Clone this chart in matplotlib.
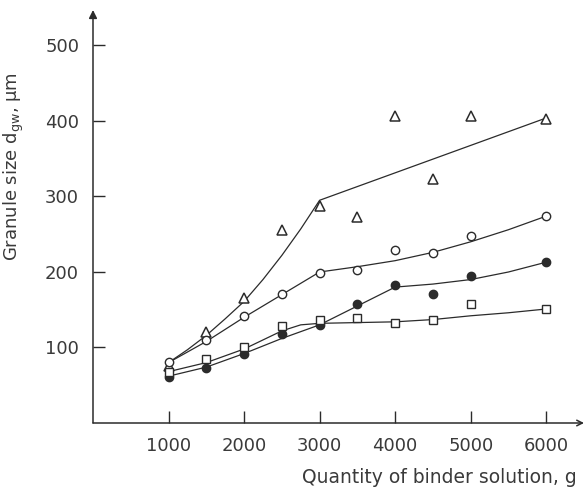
import matplotlib
matplotlib.use("Agg")
import matplotlib.pyplot as plt

# Data
x = [1000, 1500, 2000, 2500, 3000, 3500, 4000, 4500, 5000, 6000]
tri = [76, 121, 165, 256, 287, 273, 407, 323, 407, 403]
circ_open = [81, 110, 142, 171, 199, 203, 229, 225, 248, 274]
circ_fill = [61, 73, 91, 118, 130, 158, 183, 171, 195, 213]
square = [68, 85, 101, 128, 136, 139, 132, 136, 158, 151]

# Hand-drawn fit curves
fit_tri_x = [1000, 1250, 1500, 1750, 2000, 2250, 2500, 2750, 3000, 6000]
fit_tri_y = [80, 97, 116, 138, 161, 190, 222, 257, 295, 404]
fit_co_x = [1000, 1500, 2000, 2500, 3000, 3500, 4000, 4500, 5000, 5500, 6000]
fit_co_y = [80, 108, 140, 170, 200, 207, 215, 226, 240, 256, 274]
fit_cf_x = [1000, 1500, 2000, 2500, 3000, 3500, 4000, 4500, 5000, 5500, 6000]
fit_cf_y = [62, 74, 92, 112, 130, 155, 180, 184, 190, 200, 213]
fit_sq_x = [1000, 1500, 2000, 2500, 2750, 3000, 3500, 4000, 4500, 5000, 5500, 6000]
fit_sq_y = [68, 80, 98, 122, 130, 132, 133, 134, 137, 142, 146, 151]

xticks = [1000, 2000, 3000, 4000, 5000, 6000]
yticks = [100, 200, 300, 400, 500]

ink = "#2b2b2b"
txt = "#3a3a3a"
plt.rcParams['font.family'] = ['DejaVu Sans']

fig = plt.figure(figsize=(5.88, 4.94), dpi=100)
ax = fig.add_axes([93/588, 71/494, 491/588, 413/494])
ax.set_xlim(0, 6500)
ax.set_ylim(0, 547)

lw = 0.9
ax.plot(fit_tri_x, fit_tri_y, color=ink, lw=lw)
ax.plot(fit_co_x, fit_co_y, color=ink, lw=lw)
ax.plot(fit_cf_x, fit_cf_y, color=ink, lw=lw)
ax.plot(fit_sq_x, fit_sq_y, color=ink, lw=lw)

ms = 6
ax.plot(x, tri, ls='none', marker='^', ms=ms+0.5, mfc='white', mec=ink, mew=1.1)
ax.plot(x, circ_open, ls='none', marker='o', ms=ms, mfc='white', mec=ink, mew=1.0)
ax.plot(x, circ_fill, ls='none', marker='o', ms=ms, mfc=ink, mec=ink, mew=1.0)
ax.plot(x, square, ls='none', marker='s', ms=ms-0.5, mfc='white', mec=ink, mew=1.0)

for s in ax.spines.values():
    s.set_visible(False)

ax.annotate('', xy=(1.0, 0), xytext=(0, 0), xycoords='axes fraction',
            arrowprops=dict(arrowstyle='->', color=ink, lw=1.1, shrinkA=0, shrinkB=0))
ax.annotate('', xy=(0, 1.0), xytext=(0, 0), xycoords='axes fraction',
            arrowprops=dict(arrowstyle='-|>', color=ink, lw=1.1, shrinkA=0, shrinkB=0,
                            mutation_scale=12))

ax.set_xticks(xticks)
ax.set_yticks(yticks)
ax.set_xticklabels([str(v) for v in xticks])
ax.set_yticklabels([str(v) for v in yticks])
ax.tick_params(axis='both', direction='in', length=8.5, width=1.0, color=ink,
               labelcolor=txt, labelsize=13)
ax.tick_params(axis='x', pad=10)
ax.tick_params(axis='y', pad=10)

ax.set_xlabel('Quantity of binder solution, g', fontsize=13.5, color=txt)
ax.xaxis.set_label_coords(0.705, -0.11)
ax.set_ylabel('Granule size d$_{\\mathrm{gw}}$, μm', fontsize=13, color=txt)
ax.yaxis.set_label_coords(-0.137, 0.62)

fig.savefig('out.png', dpi=100)
